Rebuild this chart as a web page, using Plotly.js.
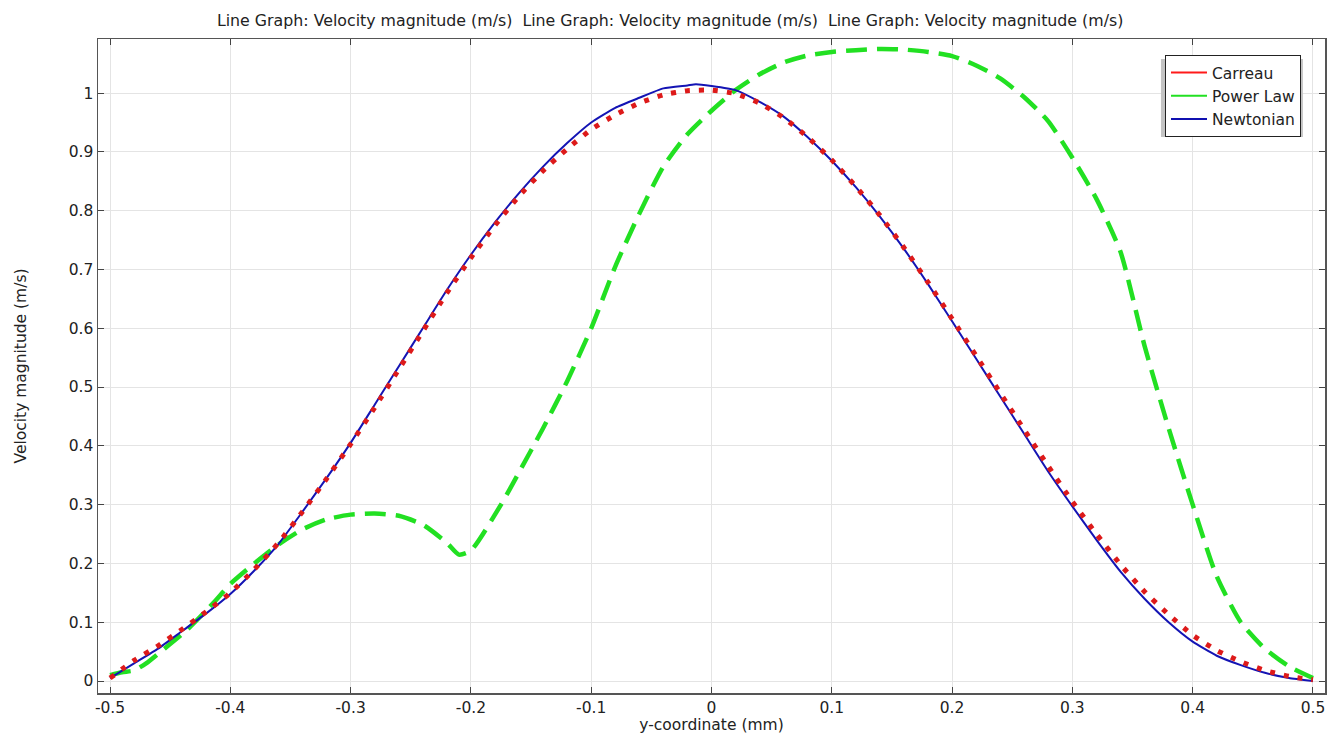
<!DOCTYPE html>
<html><head><meta charset="utf-8">
<script src="https://cdn.plot.ly/plotly-3.0.1.min.js"></script>
<style>html,body{margin:0;padding:0;background:#fff}#chart{width:1327px;height:734px}</style>
</head><body><div id="chart"></div>
<script>
const xN = [-0.5,-0.48,-0.46,-0.44,-0.42,-0.4,-0.38,-0.36,-0.34,-0.32,-0.3,-0.28,-0.26,-0.24,-0.22,-0.2,-0.18,-0.16,-0.14,-0.12,-0.1,-0.08,-0.06,-0.04,-0.02,-0.013,0,0.02,0.04,0.06,0.08,0.1,0.12,0.14,0.16,0.18,0.2,0.22,0.24,0.26,0.28,0.3,0.32,0.34,0.36,0.38,0.4,0.42,0.44,0.46,0.48,0.5];
const newtonian = [0.005,0.03,0.055,0.085,0.115,0.148,0.188,0.233,0.288,0.345,0.405,0.47,0.535,0.6,0.665,0.725,0.78,0.83,0.875,0.915,0.95,0.975,0.992,1.008,1.013,1.015,1.012,1.005,0.985,0.96,0.925,0.885,0.84,0.79,0.735,0.675,0.612,0.548,0.484,0.42,0.356,0.297,0.24,0.186,0.14,0.1,0.067,0.043,0.027,0.014,0.005,0.0];
const xC = [-0.5,-0.48,-0.46,-0.44,-0.42,-0.4,-0.38,-0.36,-0.34,-0.32,-0.3,-0.28,-0.26,-0.24,-0.22,-0.2,-0.18,-0.16,-0.14,-0.12,-0.1,-0.08,-0.06,-0.04,-0.02,0,0.02,0.04,0.06,0.08,0.1,0.12,0.14,0.16,0.18,0.2,0.22,0.24,0.26,0.28,0.3,0.32,0.34,0.36,0.38,0.4,0.42,0.44,0.46,0.48,0.5];
const carreau = [0.005,0.035,0.06,0.088,0.118,0.15,0.19,0.235,0.288,0.344,0.403,0.465,0.53,0.595,0.66,0.72,0.775,0.825,0.868,0.905,0.938,0.963,0.983,0.997,1.004,1.005,0.999,0.983,0.958,0.925,0.886,0.841,0.792,0.737,0.678,0.616,0.553,0.49,0.427,0.365,0.305,0.25,0.198,0.152,0.113,0.078,0.052,0.033,0.018,0.008,0.002];
const xP = [-0.5,-0.49,-0.48,-0.47,-0.456,-0.436,-0.414,-0.4,-0.38,-0.36,-0.34,-0.32,-0.3,-0.28,-0.26,-0.24,-0.22,-0.21,-0.2,-0.175,-0.16,-0.14,-0.12,-0.1,-0.08,-0.06,-0.04,-0.02,0,0.02,0.04,0.06,0.08,0.1,0.12,0.14,0.16,0.18,0.2,0.22,0.24,0.26,0.28,0.3,0.32,0.34,0.36,0.38,0.4,0.42,0.44,0.46,0.48,0.5];
const powerLaw = [0.01,0.015,0.018,0.03,0.053,0.087,0.133,0.165,0.2,0.232,0.258,0.275,0.283,0.285,0.281,0.266,0.235,0.215,0.222,0.3,0.355,0.43,0.51,0.6,0.705,0.795,0.875,0.93,0.97,1.005,1.032,1.052,1.064,1.07,1.073,1.075,1.074,1.07,1.063,1.047,1.025,0.993,0.952,0.89,0.82,0.73,0.57,0.43,0.3,0.178,0.1,0.055,0.025,0.005];
const names = ["Carreau","Power Law","Newtonian"];
const colors = ["#ff1a1a","#22e022","#1010b0"];
const titleText = "Line Graph: Velocity magnitude (m/s)  Line Graph: Velocity magnitude (m/s)  Line Graph: Velocity magnitude (m/s)";
const xTicks = [-0.5,-0.4,-0.3,-0.2,-0.1,0,0.1,0.2,0.3,0.4,0.5];
const xTickText = ["-0.5","-0.4","-0.3","-0.2","-0.1","0","0.1","0.2","0.3","0.4","0.5"];
const yTicks = [0,0.1,0.2,0.3,0.4,0.5,0.6,0.7,0.8,0.9,1];
const yTickText = ["0","0.1","0.2","0.3","0.4","0.5","0.6","0.7","0.8","0.9","1"];

const traces = [
  {x:xP, y:powerLaw, mode:'lines', line:{color:'#22e022', width:4.5, dash:'21px,10px', shape:'spline', smoothing:0.6}, showlegend:false, hoverinfo:'skip'},
  {x:xN, y:newtonian, mode:'lines', line:{color:'#1414b4', width:2, shape:'spline', smoothing:0.5}, showlegend:false, hoverinfo:'skip'},
  {x:xC, y:carreau, mode:'lines', line:{color:'#dd1a1a', width:5, dash:'5px,9px', shape:'spline', smoothing:0.5}, showlegend:false, hoverinfo:'skip'},
];
names.forEach((n,i)=>traces.push({x:[null], y:[null], mode:'lines', name:n, line:{color:colors[i], width:2}}));

const font = {family:'DejaVu Sans, sans-serif', size:15.5, color:'#222'};
const layout = {
  width:1327, height:734,
  margin:{l:98, r:2, t:39, b:41},
  paper_bgcolor:'#fff', plot_bgcolor:'#fff',
  font:font,
  title:{text:titleText, font:{family:'DejaVu Sans, sans-serif', size:15.8, color:'#222'}, x:0.505, xanchor:'center', y:0.972, yanchor:'middle'},
  xaxis:{range:[-0.51,0.51], tickvals:xTicks, ticktext:xTickText, ticks:'inside', ticklen:6, tickcolor:'#444',
    showline:true, linecolor:'#555', linewidth:1.5, mirror:'ticks', showgrid:true, gridcolor:'#e4e4e4', zeroline:false,
    title:{text:'y-coordinate (mm)', font:font, standoff:0}, tickfont:font},
  yaxis:{range:[-0.0204,1.092], tickvals:yTicks, ticktext:yTickText, ticks:'inside', ticklen:6, tickcolor:'#444',
    showline:true, linecolor:'#555', linewidth:1.5, mirror:'ticks', showgrid:true, gridcolor:'#e4e4e4', zeroline:false,
    title:{text:'Velocity magnitude (m/s)', font:font, standoff:38}, tickfont:font},
  legend:{x:0.8696, y:0.9755, xanchor:'left', yanchor:'top', bgcolor:'#fff', bordercolor:'#222', borderwidth:1,
    font:{family:'DejaVu Sans, sans-serif', size:15.5, color:'#222'}, tracegroupgap:0, itemwidth:36},
  shapes:[{type:'rect', xref:'paper', yref:'paper', x0:0.8663, x1:0.982, y0:0.8502, y1:0.9694, fillcolor:'#c4c4c4', line:{width:0}, layer:'above'}],
  showlegend:true
};
Plotly.newPlot('chart', traces, layout, {staticPlot:true});
</script></body></html>
